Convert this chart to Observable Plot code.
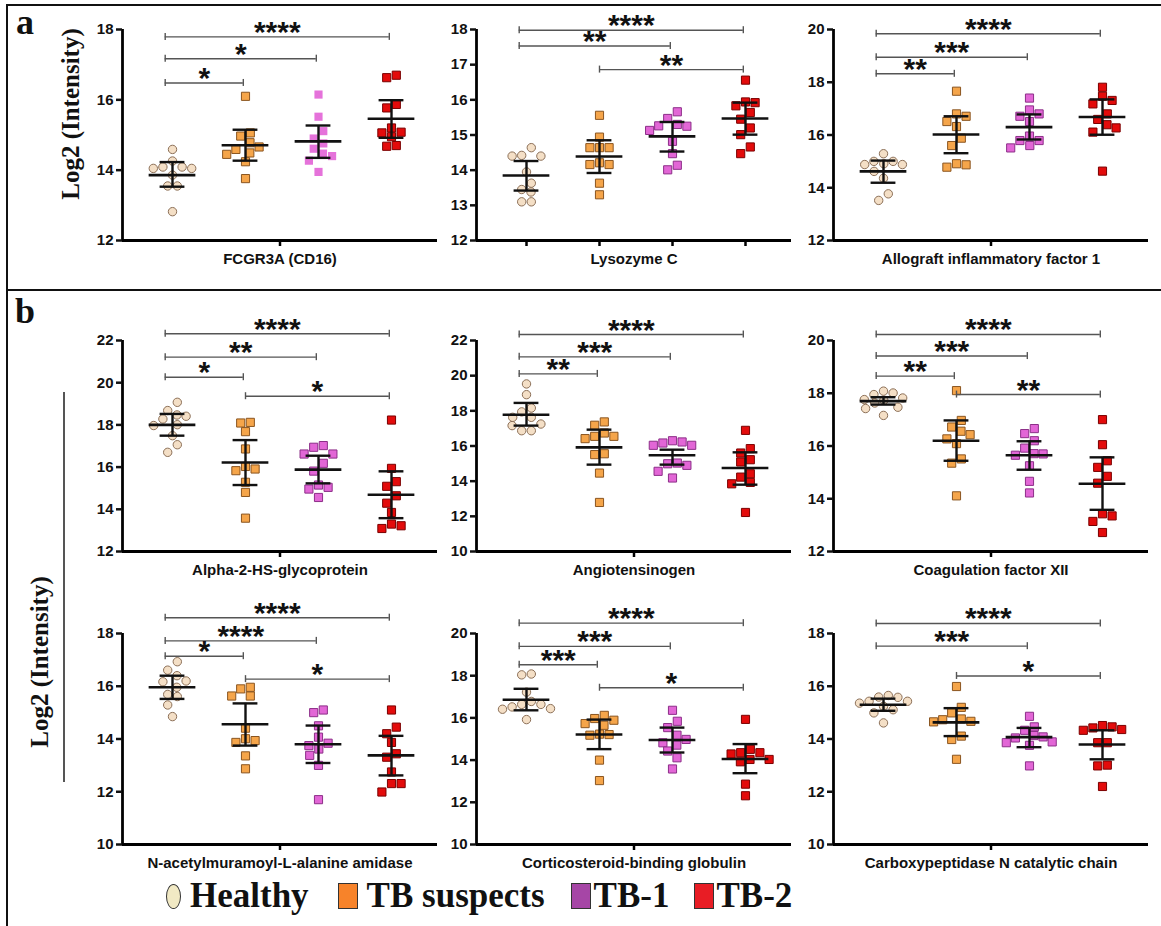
<!DOCTYPE html>
<html><head><meta charset="utf-8">
<script src="https://cdn.jsdelivr.net/npm/d3@7"></script>
<script src="https://cdn.jsdelivr.net/npm/@observablehq/plot@0.6"></script>
<style>
body{margin:0;background:#fff;}
#fig{position:relative;width:1161px;height:926px;overflow:hidden;background:#fff;font-family:"Liberation Sans",Arial,sans-serif;}
.panel{position:absolute;}
.panel svg{overflow:visible;background:transparent;}
.line{position:absolute;background:#111;}
.lab{position:absolute;font-family:"Liberation Serif","Times New Roman",serif;font-weight:bold;color:#111;white-space:nowrap;}
.ytitle{position:absolute;font-family:"Liberation Serif","Times New Roman",serif;font-weight:bold;font-size:25px;color:#111;white-space:nowrap;transform:translate(-50%,-50%) rotate(-90deg);}
#legend{position:absolute;left:166px;top:876px;display:flex;align-items:center;font-family:"Liberation Serif","Times New Roman",serif;font-weight:bold;font-size:35px;color:#111;white-space:nowrap;}
#legend .mk{display:inline-block;border:1px solid #333;box-sizing:border-box;}
</style></head>
<body><div id="fig"></div>
<script>
// ---------------- data ----------------
const groups = ["Healthy", "TB suspects", "TB-1", "TB-2"];
const proteins = ["FCGR3A (CD16)", "Lysozyme C", "Allograft inflammatory factor 1",
  "Alpha-2-HS-glycoprotein", "Angiotensinogen", "Coagulation factor XII",
  "N-acetylmuramoyl-L-alanine amidase", "Corticosteroid-binding globulin", "Carboxypeptidase N catalytic chain"];
const yRanges = [[12,18],[12,18],[12,20],[12,22],[10,22],[12,20],[10,18],[10,20],[10,18]];
const yTickStep = [2,1,2,2,2,2,2,2,2];

const fcgr3a = [
  [14.59,14.26,14.09,14.05,14.05,14.09,13.86,13.55,13.55,12.82],
  [16.10,15.06,14.97,14.78,14.66,14.59,14.45,14.49,14.24,13.76],
  [16.15,15.52,15.11,14.90,14.76,14.61,14.47,14.40,14.27,13.95],
  [16.70,16.63,15.77,15.87,15.20,15.06,15.08,14.95,14.68,14.70]];
const lysozymeC = [
  [14.64,14.40,14.40,14.42,13.95,13.63,13.45,13.38,13.10,13.10],
  [15.56,14.94,14.64,14.64,14.64,14.21,14.16,14.16,13.63,13.30],
  [15.66,15.47,15.30,15.25,15.26,15.13,14.82,14.47,14.14,14.01],
  [16.56,15.92,15.94,15.83,15.64,15.45,15.20,15.01,14.66,14.47]];
const aif1 = [
  [15.29,15.00,14.91,14.88,14.88,15.00,14.62,14.36,13.77,13.52],
  [17.66,16.80,16.71,16.51,16.32,15.88,15.60,14.91,14.78,14.87],
  [17.40,16.95,16.80,16.71,16.51,15.96,15.79,15.79,15.51,15.60],
  [17.81,17.31,17.47,17.18,16.80,16.59,16.27,16.39,16.11,14.63]];
const ahsg = [
  [19.07,18.47,18.28,18.41,18.68,17.97,18.01,17.49,17.06,16.70],
  [18.09,18.12,17.68,16.86,15.91,15.83,16.03,15.28,14.80,13.58],
  [17.02,16.94,16.62,16.62,16.18,15.81,15.15,14.96,15.04,14.56],
  [18.23,15.94,15.31,15.09,14.64,14.29,13.85,13.30,13.09,13.22]];
const agt = [
  [19.53,18.92,18.16,17.94,17.63,17.63,17.16,17.25,16.87,16.87],
  [17.37,17.18,16.74,16.55,16.42,16.55,15.51,15.56,14.46,12.79],
  [16.30,16.17,16.04,16.04,16.23,14.99,14.90,15.03,14.56,14.18],
  [16.89,15.85,15.60,15.22,15.09,14.42,14.23,13.93,13.85,12.22]];
const f12 = [
  [18.08,17.95,18.01,17.82,17.76,17.73,17.63,17.47,17.42,17.16],
  [18.10,16.97,16.72,16.56,16.43,16.27,16.09,15.51,15.35,14.11],
  [16.66,16.47,16.20,15.92,15.70,15.65,15.71,15.25,14.66,14.22],
  [17.00,16.05,15.44,15.19,14.85,14.59,13.35,13.43,13.14,12.72]];
const amidase = [
  [16.93,16.61,16.40,16.20,16.17,15.96,15.69,15.61,15.29,14.85],
  [15.90,15.96,15.63,15.63,14.41,14.01,13.94,13.87,13.36,12.87],
  [15.10,15.00,14.50,14.07,13.84,13.75,13.62,13.38,13.00,11.70],
  [15.10,14.45,14.20,13.87,13.44,13.31,12.75,12.31,12.31,11.99]];
const cbg = [
  [18.08,18.04,17.22,16.78,16.64,16.44,16.41,16.52,16.64,15.92],
  [15.97,15.73,15.65,15.89,16.12,15.23,15.18,15.21,14.00,13.03],
  [16.36,15.84,15.54,15.18,14.98,14.71,14.82,14.43,14.11,13.58],
  [15.93,14.35,14.03,13.92,14.51,14.03,14.29,14.35,12.86,12.31]];
const cpn1 = [
  [15.59,15.65,15.43,15.36,15.43,15.58,15.24,15.11,14.99,14.61],
  [15.99,15.20,14.99,14.73,14.76,14.67,14.65,14.11,13.98,13.23],
  [14.86,14.46,14.33,14.04,14.13,14.08,13.86,13.89,13.76,12.98],
  [14.46,14.36,14.33,14.42,14.51,13.86,13.86,13.01,12.98,12.20]];
const valueSets = [fcgr3a, lysozymeC, aif1, ahsg, agt, f12, amidase, cbg, cpn1];

const means = [
  [13.86,14.71,14.82,15.46],[13.85,14.39,14.96,15.47],[14.62,16.02,16.30,16.68],
  [18.00,16.22,15.88,14.69],[17.78,15.92,15.47,14.75],[17.70,16.20,15.65,14.57],
  [15.96,14.56,13.80,13.38],[16.86,15.21,14.95,14.05],[15.30,14.63,14.07,13.79]];
const errLow = [
  [13.53,14.27,14.35,14.92],[13.42,13.92,14.53,15.01],[14.19,15.31,15.83,16.01],
  [17.49,15.15,15.23,13.58],[17.16,14.94,14.94,13.80],[17.57,15.44,15.10,13.58],
  [15.52,13.75,13.09,12.62],[16.36,14.52,14.36,13.38],[15.07,14.11,13.69,13.23]];
const errHigh = [
  [14.23,15.15,15.27,15.99],[14.26,14.85,15.37,15.92],[15.03,16.71,16.78,17.35],
  [18.52,17.28,16.54,15.80],[18.45,16.93,15.79,15.64],[17.85,16.97,16.18,15.57],
  [16.40,15.35,14.51,14.12],[17.38,15.92,15.54,14.76],[15.53,15.17,14.42,14.33]];
// [from group, to group, bracket level, significance]
const brackets = [
  [[0,3,17.79,"****"],[0,2,17.17,"*"],[0,1,16.48,"*"]],
  [[0,3,17.98,"****"],[0,2,17.53,"**"],[1,3,16.86,"**"]],
  [[0,3,19.84,"****"],[0,2,18.95,"***"],[0,1,18.32,"**"]],
  [[0,3,22.32,"****"],[0,2,21.21,"**"],[0,1,20.26,"*"],[1,3,19.36,"*"]],
  [[0,3,22.34,"****"],[0,2,21.07,"***"],[0,1,20.10,"**"]],
  [[0,3,20.23,"****"],[0,2,19.41,"***"],[0,1,18.65,"**"],[1,3,17.95,"**"]],
  [[0,3,18.60,"****"],[0,2,17.72,"****"],[0,1,17.14,"*"],[1,3,16.27,"*"]],
  [[0,3,20.49,"****"],[0,2,19.39,"***"],[0,1,18.52,"***"],[1,3,17.43,"*"]],
  [[0,3,18.38,"****"],[0,2,17.52,"***"],[1,3,16.39,"*"]]];

// ---------------- styles / layout ----------------
const fills = ["#f4dfc6", "#f5a54a", "#e266d6", "#e30b0b"];
const strokes = ["#8c7058", "#8a5520", "#8c2f88", "#7a0000"];
const PLOT_W = 315, PLOT_H = 211, STEP = 73, FIRST = 50;
const ML = 45, MR = 12, MT = 42, MB = 38;
const colX = [122, 476, 833];
const rowTop = [29, 340, 633];

// GraphPad-like column scatter: points binned into rows, each row centred, collisions avoided
function swarm(vals, ppu) {
  const SP = 9.6, ROWH = 8.5;
  const order = vals.map((v, i) => i).sort((a, b) => vals[b] - vals[a]);
  const rows = [];
  for (const i of order) {
    const r = rows[rows.length - 1];
    if (r && (vals[r[0]] - vals[i]) * ppu < ROWH) r.push(i); else rows.push([i]);
  }
  const placed = [], off = new Array(vals.length);
  for (const r of rows) {
    const n = r.length;
    const slots = d3.range(n).map(j => (j - (n - 1) / 2) * SP)
      .sort((a, b) => Math.abs(a) - Math.abs(b) || b - a);
    r.forEach((i, j) => {
      const py = vals[i] * ppu;
      const want = slots[j];
      const dir = want >= 0 ? 1 : -1;
      let cx = want;
      for (let k = 0; k < 400; k++) {
        const c = want + ((k + 1) >> 1) * 0.5 * (k % 2 ? 1 : -1) * dir;
        if (!placed.some(p => Math.abs(p.x - c) < 9 && Math.abs(p.y - py) < 8)) { cx = c; break; }
      }
      placed.push({x: cx, y: py});
      off[i] = cx;
    });
  }
  return off;
}

function panel(k) {
  const [y0, y1] = yRanges[k];
  const ppu = PLOT_H / (y1 - y0);
  const xDom = [-FIRST / STEP, (PLOT_W - FIRST) / STEP];
  const mid = (xDom[0] + xDom[1]) / 2;
  const pts = [];
  valueSets[k].forEach((vals, g) => {
    const off = swarm(vals, ppu);
    vals.forEach((v, i) => pts.push({g, x: g + off[i] / STEP, v}));
  });
  const stats = groups.map((name, g) => ({g, mean: means[k][g], lo: errLow[k][g], hi: errHigh[k][g]}));
  const br = brackets[k].map(([a, b, lvl, s]) => ({x1: a + (a === 0 ? -0.1 : 0), x2: b - 0.03, y: lvl, s}));
  const brEnds = br.flatMap(d => [{x: d.x1, y: d.y}, {x: d.x2, y: d.y}]);
  const capU = 3.5 / ppu;
  const ticks = d3.range(y0, y1 + 1e-9, yTickStep[k]);
  const xTicks = k === 1 ? [0, 1, 2, 3] : [mid];
  const hasAxisMark = typeof Plot.axisY === "function";
  const marks = [];
  groups.forEach((name, g) => {
    const plain = k === 0 && g === 2; // first panel draws TB-1 without outline
    marks.push(Plot.dot(pts.filter(d => d.g === g), {x: "x", y: "v",
      symbol: g === 0 ? "circle" : "square", r: g === 0 ? 4.2 : 4.6,
      fill: plain ? "#e572da" : fills[g], stroke: plain ? "none" : strokes[g], strokeWidth: 1}));
  });
  marks.push(
    Plot.ruleY(stats, {x1: d => d.g - 0.32, x2: d => d.g + 0.32, y: "mean", stroke: "#111", strokeWidth: 2.6}),
    Plot.ruleY(stats, {x1: d => d.g - 0.17, x2: d => d.g + 0.17, y: "lo", stroke: "#111", strokeWidth: 2.4}),
    Plot.ruleY(stats, {x1: d => d.g - 0.17, x2: d => d.g + 0.17, y: "hi", stroke: "#111", strokeWidth: 2.4}),
    Plot.ruleX(stats, {x: "g", y1: "lo", y2: "hi", stroke: "#111", strokeWidth: 2.4}),
    Plot.ruleY(br, {x1: "x1", x2: "x2", y: "y", stroke: "#555", strokeWidth: 1.4}),
    Plot.ruleX(brEnds, {x: "x", y1: d => d.y - capU, y2: d => d.y + capU, stroke: "#555", strokeWidth: 1.4}),
    Plot.text(br, {x: d => (d.x1 + d.x2) / 2, y: "y", text: "s", fontSize: 30, fontWeight: "bold",
      lineAnchor: "bottom", dy: 5, fill: "#111"}),
    Plot.ruleY([y0], {stroke: "#000", strokeWidth: 2.8}),
    Plot.ruleX([xDom[0]], {y1: y0, y2: y1, stroke: "#000", strokeWidth: 2.8}),
    Plot.ruleX(xTicks, {y1: y0, y2: y0 - 6 / ppu, stroke: "#000", strokeWidth: 2.5}),
    Plot.text([proteins[k]], {x: mid, frameAnchor: "bottom", dy: 13, lineAnchor: "top",
      fontSize: 15, fontWeight: "bold", fill: "#111"})
  );
  if (hasAxisMark) marks.push(Plot.axisY({ticks, tickSize: 6, tickPadding: 3, strokeWidth: 2.5,
    label: null, tickFormat: d => d, fontSize: 15, fontWeight: "bold", fill: "#111"}));
  const chart = Plot.plot({
    width: ML + PLOT_W + MR, height: MT + PLOT_H + MB,
    marginLeft: ML, marginRight: MR, marginTop: MT, marginBottom: MB,
    x: {domain: xDom, axis: null},
    y: hasAxisMark ? {domain: [y0, y1]} : {domain: [y0, y1], ticks, tickSize: 6, tickPadding: 3, label: null},
    style: {background: "transparent", overflow: "visible", fontFamily: "'Liberation Sans', Arial, sans-serif",
      fontSize: "15px", fontWeight: "bold", color: "#111", maxWidth: "none"},
    marks
  });
  const wrap = document.createElement("div");
  wrap.className = "panel";
  wrap.style.left = (colX[k % 3] - ML) + "px";
  wrap.style.top = (rowTop[Math.floor(k / 3)] - MT) + "px";
  wrap.appendChild(chart);
  return wrap;
}

const fig = document.getElementById("fig");
for (let k = 0; k < 9; k++) fig.appendChild(panel(k));

function hline(x, y, w, h, color) {
  const d = document.createElement("div");
  d.className = "line";
  Object.assign(d.style, {left: x + "px", top: y + "px", width: w + "px", height: h + "px"});
  if (color) d.style.background = color;
  fig.appendChild(d);
}
hline(6, 4, 1155, 2);      // top border
hline(6, 4, 2, 922);       // left border
hline(6, 289, 1155, 2);    // a / b divider
hline(63, 392, 1.5, 390, "#555"); // b side line

function label(txt, x, y, size) {
  const d = document.createElement("div");
  d.className = "lab";
  d.textContent = txt;
  Object.assign(d.style, {left: x + "px", top: y + "px", fontSize: size + "px", lineHeight: "1"});
  fig.appendChild(d);
}
label("a", 16, 4, 36);
label("b", 15, 293, 36);

function ytitle(x, y) {
  const d = document.createElement("div");
  d.className = "ytitle";
  d.textContent = "Log2 (Intensity)";
  Object.assign(d.style, {left: x + "px", top: y + "px"});
  fig.appendChild(d);
}
ytitle(71, 114);
ytitle(40, 662);

// legend
const legend = document.createElement("div");
legend.id = "legend";
const legendFills = ["#f1e9c4", "#f7832a", "#a646a6", "#e81d25"];
const mkGap = [0, 29, 26, 25], txtGap = [9, 9, 3, 2];
groups.forEach((name, g) => {
  const mk = document.createElement("span");
  mk.className = "mk";
  if (g === 0) Object.assign(mk.style, {width: "15px", height: "25px", borderRadius: "50%"});
  else Object.assign(mk.style, {width: "20px", height: "26px"});
  mk.style.marginLeft = mkGap[g] + "px";
  mk.style.background = legendFills[g];
  const t = document.createElement("span");
  t.textContent = name;
  t.style.marginLeft = txtGap[g] + "px";
  legend.appendChild(mk);
  legend.appendChild(t);
});
fig.appendChild(legend);
</script>
</body></html>
